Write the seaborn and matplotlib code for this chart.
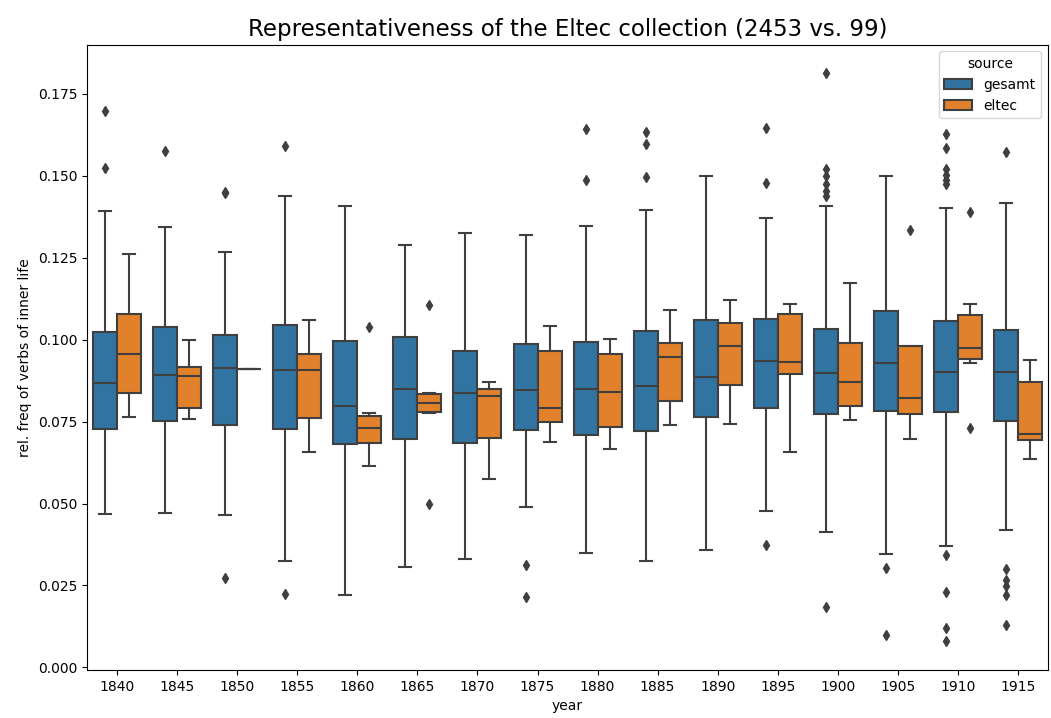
import pandas as pd
import numpy as np
import matplotlib
matplotlib.use("Agg")
import matplotlib.pyplot as plt
import seaborn as sns

years = [1840, 1845, 1850, 1855, 1860, 1865, 1870, 1875,
         1880, 1885, 1890, 1895, 1900, 1905, 1910, 1915]
sources = ["gesamt", "eltec"]

# box statistics: whisker low, Q1, median, Q3, whisker high
gesamt_lo = [0.0468, 0.0472, 0.0464, 0.0324, 0.0222, 0.0306, 0.0332, 0.0490,
             0.0350, 0.0324, 0.0358, 0.0476, 0.0412, 0.0345, 0.0371, 0.0420]
gesamt_q1 = [0.0726, 0.0752, 0.0740, 0.0726, 0.0682, 0.0696, 0.0686, 0.0725,
             0.0708, 0.0721, 0.0764, 0.0793, 0.0774, 0.0782, 0.0779, 0.0752]
gesamt_med = [0.0868, 0.0891, 0.0915, 0.0907, 0.0797, 0.0850, 0.0838, 0.0845,
              0.0850, 0.0858, 0.0885, 0.0935, 0.0898, 0.0929, 0.0902, 0.0902]
gesamt_q3 = [0.1022, 0.1039, 0.1013, 0.1044, 0.0995, 0.1009, 0.0964, 0.0986,
             0.0994, 0.1025, 0.1059, 0.1062, 0.1034, 0.1087, 0.1056, 0.1029]
gesamt_hi = [0.1393, 0.1344, 0.1268, 0.1439, 0.1408, 0.1288, 0.1327, 0.1318,
             0.1348, 0.1397, 0.1498, 0.1371, 0.1408, 0.1498, 0.1401, 0.1418]
gesamt_fliers = [
    [0.1697, 0.1523],
    [0.1575],
    [0.1452, 0.1448, 0.0272],
    [0.1591, 0.0224],
    [],
    [],
    [],
    [0.0312, 0.0216],
    [0.1644, 0.1487],
    [0.1634, 0.1596, 0.1495],
    [],
    [0.1645, 0.1478, 0.0373],
    [0.1814, 0.1520, 0.1500, 0.1475, 0.1455, 0.1437, 0.0185],
    [0.0303, 0.0098],
    [0.1629, 0.1586, 0.1520, 0.1502, 0.1487, 0.1476, 0.0343, 0.0229, 0.0121, 0.0079],
    [0.1573, 0.0299, 0.0266, 0.0247, 0.0222, 0.0128],
]

eltec_lo = [0.0763, 0.0757, 0.0911, 0.0656, 0.0613, 0.0776, 0.0574, 0.0688,
            0.0666, 0.0741, 0.0744, 0.0656, 0.0754, 0.0696, 0.0930, 0.0635]
eltec_q1 = [0.0838, 0.0792, 0.0911, 0.0761, 0.0686, 0.0779, 0.0700, 0.0750,
            0.0735, 0.0813, 0.0863, 0.0894, 0.0797, 0.0774, 0.0941, 0.0693]
eltec_med = [0.0956, 0.0888, 0.0911, 0.0907, 0.0731, 0.0807, 0.0828, 0.0791,
             0.0841, 0.0946, 0.0981, 0.0933, 0.0871, 0.0822, 0.0974, 0.0713]
eltec_q3 = [0.1077, 0.0916, 0.0911, 0.0956, 0.0767, 0.0835, 0.0850, 0.0964,
            0.0956, 0.0991, 0.1051, 0.1078, 0.0991, 0.0981, 0.1074, 0.0870]
eltec_hi = [0.1260, 0.0998, 0.0911, 0.1060, 0.0777, 0.0838, 0.0872, 0.1042,
            0.1002, 0.1091, 0.1122, 0.1108, 0.1174, 0.0981, 0.1108, 0.0938]
eltec_fliers = [
    [], [], [], [], [0.1040], [0.1106, 0.0497], [], [],
    [], [], [], [], [], [0.1334], [0.1390, 0.0730], [],
]


def expand(lo, q1, med, q3, hi, fliers):
    # turn a five-number summary plus outliers into values that give back the same box
    low_f = [f for f in fliers if f < med]
    high_f = [f for f in fliers if f > med]
    m = max(len(low_f), len(high_f)) + 1
    s = 4 * m + 4
    return (low_f + [lo] * (m - len(low_f)) + [q1] * s + [med] * s + [q3] * s
            + [hi] * (m - len(high_f)) + high_f)


rows = []
stats = {
    "gesamt": (gesamt_lo, gesamt_q1, gesamt_med, gesamt_q3, gesamt_hi, gesamt_fliers),
    "eltec": (eltec_lo, eltec_q1, eltec_med, eltec_q3, eltec_hi, eltec_fliers),
}
for src in sources:
    lo, q1, med, q3, hi, fl = stats[src]
    for i, year in enumerate(years):
        for v in expand(lo[i], q1[i], med[i], q3[i], hi[i], fl[i]):
            rows.append({"year": year, "source": src, "value": v})
df = pd.DataFrame(rows)

fig, ax = plt.subplots(figsize=(10.51, 7.18), dpi=100)
sns.boxplot(
    data=df, x="year", y="value", hue="source",
    order=years, hue_order=sources,
    linecolor="#3f3f3f", linewidth=1.5,
    flierprops=dict(marker="d", markerfacecolor="#3f3f3f",
                    markeredgecolor="#3f3f3f", markersize=5),
    ax=ax,
)
ax.set_title("Representativeness of the Eltec collection (2453 vs. 99)", fontsize=16.5)
ax.set_xlabel("year")
ax.set_ylabel("rel. freq of verbs of inner life")
sns.move_legend(ax, "upper right", title="source")
plt.subplots_adjust(left=0.083, right=0.997, top=0.938, bottom=0.067)
plt.savefig("out.png", dpi=100)
